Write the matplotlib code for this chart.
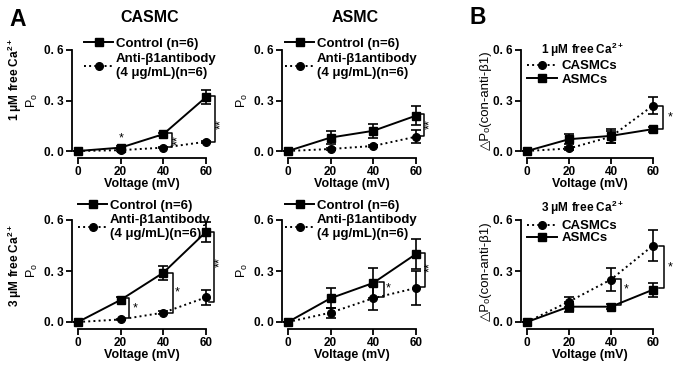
import numpy as np
import matplotlib
matplotlib.use("Agg")
import matplotlib.pyplot as plt

plt.rcParams['font.family'] = ['Liberation Sans', 'DejaVu Sans']
plt.rcParams['font.weight'] = 'bold'
plt.rcParams['mathtext.fontset'] = 'custom'
plt.rcParams['mathtext.rm'] = 'Liberation Sans:bold'
plt.rcParams['mathtext.bf'] = 'Liberation Sans:bold'
plt.rcParams['mathtext.it'] = 'Liberation Sans:bold'

voltage = [0, 20, 40, 60]

# CASMC, 1 uM
casmc1_ctrl = [0, 0.02, 0.10, 0.32]
casmc1_ctrl_err = [0, 0.008, 0.008, 0.04]
casmc1_anti = [0, 0.005, 0.02, 0.055]
casmc1_anti_err = [0, 0.004, 0.005, 0.006]
# ASMC, 1 uM
asmc1_ctrl = [0, 0.08, 0.12, 0.21]
asmc1_ctrl_err = [0, 0.04, 0.04, 0.055]
asmc1_anti = [0, 0.012, 0.03, 0.085]
asmc1_anti_err = [0, 0.006, 0.008, 0.04]
# delta, 1 uM
d1_casmc = [0, 0.015, 0.085, 0.27]
d1_casmc_err = [0, 0.01, 0.035, 0.05]
d1_asmc = [0, 0.07, 0.09, 0.13]
d1_asmc_err = [0, 0.03, 0.04, 0.015]

# CASMC, 3 uM
casmc3_ctrl = [0, 0.13, 0.29, 0.53]
casmc3_ctrl_err = [0, 0.015, 0.04, 0.06]
casmc3_anti = [0, 0.015, 0.055, 0.145]
casmc3_anti_err = [0, 0.005, 0.01, 0.045]
# ASMC, 3 uM
asmc3_ctrl = [0, 0.14, 0.23, 0.40]
asmc3_ctrl_err = [0, 0.06, 0.09, 0.09]
asmc3_anti = [0, 0.055, 0.14, 0.20]
asmc3_anti_err = [0, 0.03, 0.07, 0.10]
# delta, 3 uM
d3_casmc = [0, 0.12, 0.25, 0.45]
d3_casmc_err = [0, 0.03, 0.07, 0.09]
d3_asmc = [0, 0.09, 0.09, 0.19]
d3_asmc_err = [0, 0.03, 0.015, 0.04]

W, H = 679, 367
fig = plt.figure(figsize=(6.79, 3.67), dpi=100)


def make_ax(x0, x1, ytop, ybot):
    ax = fig.add_axes([x0 / W, 1 - ybot / H, (x1 - x0) / W, (ybot - ytop) / H])
    ax.set_xlim(0, 60)
    ax.set_ylim(0, 0.6)
    for s in ['top', 'right']:
        ax.spines[s].set_visible(False)
    ax.spines['left'].set_position(('outward', 4.3))
    ax.spines['bottom'].set_position(('outward', 5))
    ax.spines['left'].set_linewidth(1.3)
    ax.spines['bottom'].set_linewidth(1.3)
    ax.set_xticks(voltage)
    ax.set_yticks([0, 0.3, 0.6])
    ax.set_yticklabels(['0. 0', '0. 3', '0. 6'])
    ax.tick_params(width=1.3, length=4, labelsize=8.5, pad=2)
    for lab in ax.get_xticklabels() + ax.get_yticklabels():
        lab.set_fontweight('bold')
    ax.set_xlabel('Voltage (mV)', fontsize=9, fontweight='bold', labelpad=0)
    return ax


def series(ax, y, err, style, marker, label):
    ax.errorbar(voltage, y, yerr=err, fmt='none', ecolor='black', capsize=3.5,
                elinewidth=1.2, capthick=1.2, clip_on=False, zorder=3)
    ax.plot(voltage, y, color='black', ls=style, lw=1.4, marker=marker, ms=5.5,
            label=label, clip_on=False, zorder=4)


def bracket(ax, x, ytop, ybot, text, tx, ty, rot=90):
    ax.plot([x - 2.2, x, x, x - 2.2], [ytop, ytop, ybot, ybot], color='black',
            lw=1.1, clip_on=False)
    ax.text(tx, ty, text, rotation=rot, ha='center', va='center', fontsize=9,
            fontweight='normal', clip_on=False)


ctrl_lab = 'Control (n=6)'
anti_lab = 'Anti-β1antibody\n(4 μg/mL)(n=6)'
delta_lab = '△Pₒ(con-anti-β1)'


def ab_legend(ax, ax_x, ax_y):
    ax.legend(loc='upper left', bbox_to_anchor=(ax_x, ax_y), frameon=False,
              borderpad=0, borderaxespad=0, handlelength=2.2, handletextpad=0.2,
              labelspacing=0.2, prop={'size': 9.5, 'weight': 'bold'})


# Top row
ax1 = make_ax(78, 206, 50, 151)
series(ax1, casmc1_ctrl, casmc1_ctrl_err, '-', 's', ctrl_lab)
series(ax1, casmc1_anti, casmc1_anti_err, ':', 'o', anti_lab)
ab_legend(ax1, 0.05, 1.12)
ax1.text(20.2, 0.072, '*', ha='center', va='center', fontsize=9, fontweight='normal')
bracket(ax1, 44.1, 0.107, 0.024, '**', 46.9, 0.065)
bracket(ax1, 64.2, 0.327, 0.054, '**', 67.2, 0.16)
ax1.set_ylabel(r'P$_\mathregular{o}$', fontsize=9, labelpad=3)

ax2 = make_ax(288, 416, 50, 151)
series(ax2, asmc1_ctrl, asmc1_ctrl_err, '-', 's', ctrl_lab)
series(ax2, asmc1_anti, asmc1_anti_err, ':', 'o', anti_lab)
ab_legend(ax2, -0.02, 1.12)
bracket(ax2, 63.8, 0.22, 0.089, '**', 66.6, 0.16)
ax2.set_ylabel(r'P$_\mathregular{o}$', fontsize=9, labelpad=3)

ax3 = make_ax(527, 653, 50, 151)
series(ax3, d1_casmc, d1_casmc_err, ':', 'o', 'CASMCs')
series(ax3, d1_asmc, d1_asmc_err, '-', 's', 'ASMCs')
ax3.legend(loc='upper left', bbox_to_anchor=(0.0, 0.9), frameon=False,
           borderpad=0, borderaxespad=0, handlelength=2.3, handletextpad=0.3,
           labelspacing=0.1, prop={'size': 9.5, 'weight': 'bold'})
ax3.text(0.44, 1.0, r'1 μM free Ca$^{2+}$', transform=ax3.transAxes,
         ha='center', va='center', fontsize=8.5, fontweight='bold')
bracket(ax3, 64.8, 0.27, 0.13, '*', 68, 0.2, rot=0)
ax3.set_ylabel(delta_lab, fontsize=9.5, labelpad=1)

# Bottom row
ax4 = make_ax(78, 206, 220, 322)
series(ax4, casmc3_ctrl, casmc3_ctrl_err, '-', 's', ctrl_lab)
series(ax4, casmc3_anti, casmc3_anti_err, ':', 'o', anti_lab)
ab_legend(ax4, 0.0, 1.2)
bracket(ax4, 24, 0.14, 0.024, '*', 26.7, 0.082, rot=0)
bracket(ax4, 44.5, 0.29, 0.053, '*', 46.6, 0.176, rot=0)
bracket(ax4, 63.8, 0.53, 0.12, '**', 66.8, 0.35)
ax4.set_ylabel(r'P$_\mathregular{o}$', fontsize=9, labelpad=3)

ax5 = make_ax(288, 416, 220, 322)
series(ax5, asmc3_ctrl, asmc3_ctrl_err, '-', 's', ctrl_lab)
series(ax5, asmc3_anti, asmc3_anti_err, ':', 'o', anti_lab)
ab_legend(ax5, -0.02, 1.2)
bracket(ax5, 45, 0.235, 0.147, '*', 47, 0.2, rot=0)
bracket(ax5, 64.2, 0.405, 0.206, '**', 66.8, 0.32)
ax5.set_ylabel(r'P$_\mathregular{o}$', fontsize=9, labelpad=3)

ax6 = make_ax(527, 653, 220, 322)
series(ax6, d3_casmc, d3_casmc_err, ':', 'o', 'CASMCs')
series(ax6, d3_asmc, d3_asmc_err, '-', 's', 'ASMCs')
ax6.legend(loc='upper left', bbox_to_anchor=(0.0, 1.0), frameon=False,
           borderpad=0, borderaxespad=0, handlelength=2.3, handletextpad=0.3,
           labelspacing=0.0, prop={'size': 9.5, 'weight': 'bold'})
ax6.text(0.44, 1.12, r'3 μM free Ca$^{2+}$', transform=ax6.transAxes,
         ha='center', va='center', fontsize=8.5, fontweight='bold')
bracket(ax6, 44.8, 0.253, 0.1, '*', 47.2, 0.19, rot=0)
bracket(ax6, 65.2, 0.447, 0.2, '*', 68.2, 0.32, rot=0)
ax6.set_ylabel(delta_lab, fontsize=9.5, labelpad=1)

# Panel letters, column titles, row labels
fig.text(18 / W, 1 - 19 / H, 'A', fontsize=16.5, fontweight='bold', ha='center', va='center')
fig.text(478 / W, 1 - 18 / H, 'B', fontsize=16.5, fontweight='bold', ha='center', va='center')
fig.text(150 / W, 1 - 17 / H, 'CASMC', fontsize=11.5, fontweight='bold', ha='center', va='center')
fig.text(355 / W, 1 - 17 / H, 'ASMC', fontsize=11.5, fontweight='bold', ha='center', va='center')
fig.text(15 / W, 1 - 80 / H, r'1 μM free Ca$^{2+}$', rotation=90, fontsize=8.5,
         fontweight='bold', ha='center', va='center')
fig.text(15 / W, 1 - 266 / H, r'3 μM free Ca$^{2+}$', rotation=90, fontsize=8.5,
         fontweight='bold', ha='center', va='center')

fig.savefig('out.png', dpi=100)
